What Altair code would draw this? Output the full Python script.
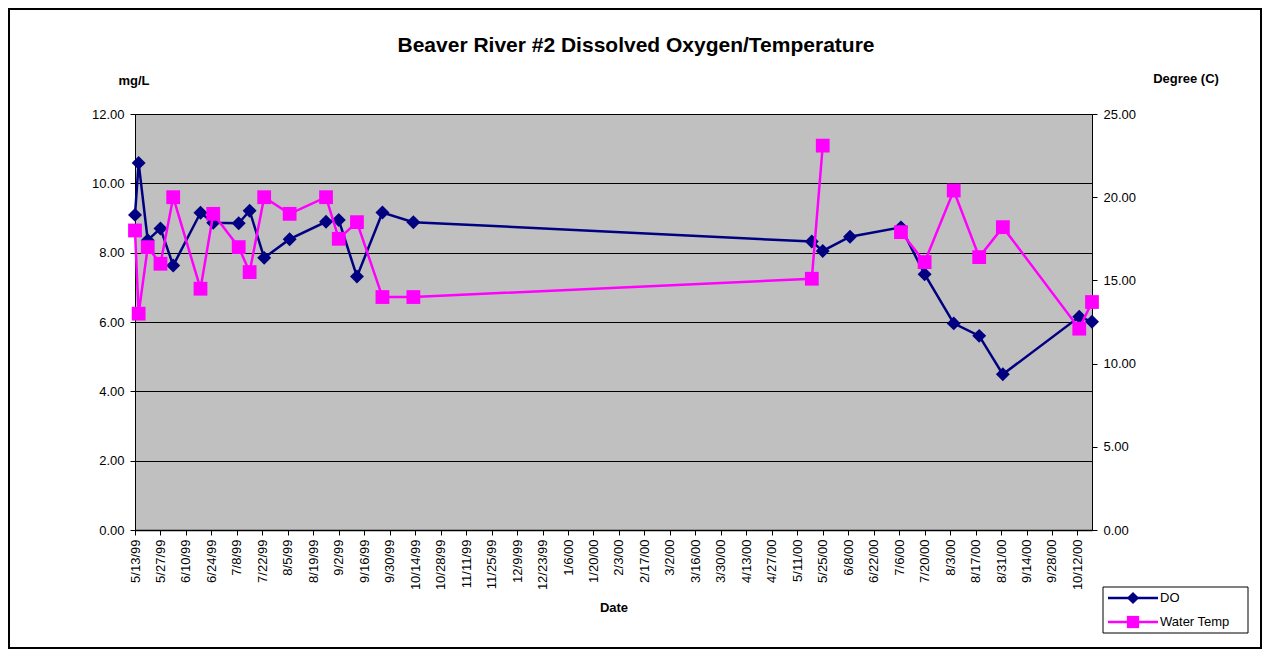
import altair as alt
import pandas as pd

# ---- data ----
dates = ["1999-05-13", "1999-05-15", "1999-05-20", "1999-05-27", "1999-06-03",
         "1999-06-18", "1999-06-25", "1999-07-09", "1999-07-15", "1999-07-23",
         "1999-08-06", "1999-08-26", "1999-09-02", "1999-09-12", "1999-09-26",
         "1999-10-13", "2000-05-19", "2000-05-25", "2000-06-09", "2000-07-07",
         "2000-07-20", "2000-08-05", "2000-08-19", "2000-09-01", "2000-10-13",
         "2000-10-20"]
do_values = [9.09, 10.59, 8.36, 8.70, 7.63, 9.15, 8.86, 8.85, 9.21, 7.85,
             8.39, 8.89, 8.94, 7.31, 9.16, 8.88, 8.32, 8.05, 8.46, 8.73,
             7.38, 5.96, 5.60, 4.49, 6.15, 6.01]
temp_values = [18.0, 13.0, 17.0, 16.0, 20.0, 14.5, 19.0, 17.0, 15.5, 20.0,
               19.0, 20.0, 17.5, 18.5, 14.0, 14.0, 15.1, 23.1, None, 17.9,
               16.1, 20.4, 16.4, 18.2, 12.1, 13.7]

x_tick_labels = ["5/13/99", "5/27/99", "6/10/99", "6/24/99", "7/8/99", "7/22/99",
                 "8/5/99", "8/19/99", "9/2/99", "9/16/99", "9/30/99", "10/14/99",
                 "10/28/99", "11/11/99", "11/25/99", "12/9/99", "12/23/99", "1/6/00",
                 "1/20/00", "2/3/00", "2/17/00", "3/2/00", "3/16/00", "3/30/00",
                 "4/13/00", "4/27/00", "5/11/00", "5/25/00", "6/8/00", "6/22/00",
                 "7/6/00", "7/20/00", "8/3/00", "8/17/00", "8/31/00", "9/14/00",
                 "9/28/00", "10/12/00"]
left_ticks = [0, 2, 4, 6, 8, 10, 12]
right_ticks = [0, 5, 10, 15, 20, 25]

title_text = "Beaver River #2 Dissolved Oxygen/Temperature"
series_names = ["DO", "Water Temp"]
DO_COLOR = "#000080"
TEMP_COLOR = "#FF00FF"
FONT = "Liberation Sans"

# ---- helpers ----
def to_ms(ts):
    return int(pd.Timestamp(ts).value // 10**6)

tick_ms = [to_ms(pd.to_datetime(t, format="%m/%d/%y")) for t in x_tick_labels]
domain = [to_ms(dates[0]), to_ms(dates[-1])]

seg = []
s = 0
for v in temp_values:
    if v is None:
        s += 1
    seg.append(s)

df = pd.DataFrame({"date": dates, "do": do_values, "temp": temp_values, "seg": seg})

x_enc = alt.X(
    "date:T",
    scale=alt.Scale(type="utc", domain=domain),
    axis=alt.Axis(values=tick_ms,
                  labelExpr="utcFormat(datum.value, '%-m/%-d/%y')",
                  labelAngle=270, labelAlign="right", labelBaseline="middle",
                  labelPadding=4, tickSize=5, title=None, grid=False,
                  labelOverlap=False, labelFontSize=13, labelBound=False,
                  labelFlush=False, domainWidth=1.5),
)
y_do = alt.Y("do:Q", scale=alt.Scale(domain=[0, 12]),
             axis=alt.Axis(values=left_ticks, format=".2f", grid=True, orient="left",
                           title=None, tickSize=5, labelPadding=6, labelFontSize=13))
y_temp = alt.Y("temp:Q", scale=alt.Scale(domain=[0, 25]),
               axis=alt.Axis(values=right_ticks, format=".2f", grid=False, orient="right",
                             title=None, tickSize=5, labelPadding=6, labelFontSize=13))

base = alt.Chart(df)
do_layer = alt.layer(
    base.mark_line(color=DO_COLOR, strokeWidth=2.5).encode(x=x_enc, y=y_do),
    base.mark_point(shape="diamond", filled=True, size=195, color=DO_COLOR, opacity=1).encode(x=x_enc, y=y_do),
)
temp_base = base.transform_filter("isValid(datum.temp)")
temp_layer = alt.layer(
    temp_base.mark_line(color=TEMP_COLOR, strokeWidth=2.5).encode(x=x_enc, y=y_temp, detail="seg:N"),
    temp_base.mark_point(shape="square", filled=True, size=190, color=TEMP_COLOR, opacity=1).encode(x=x_enc, y=y_temp),
)

one = pd.DataFrame({"a": [0]})

def label(text, x, y, size=13, weight="bold", align="center"):
    return alt.Chart(pd.DataFrame({"t": [text]})).mark_text(
        font=FONT, fontSize=size, fontWeight=weight, align=align, baseline="middle", color="black"
    ).encode(x=alt.value(x), y=alt.value(y), text="t:N")

title_layer = label(title_text, 501, -68, size=21)
mgl_layer = label("mg/L", -1, -33)
deg_layer = label("Degree (C)", 1051, -35)
date_layer = label("Date", 479, 494)

border = alt.Chart(one).mark_rect(fill="transparent", stroke="black", strokeWidth=2).encode(
    x=alt.value(-126), x2=alt.value(1126), y=alt.value(-105), y2=alt.value(534))

legend_box = alt.Chart(one).mark_rect(fill="white", stroke="black", strokeWidth=1).encode(
    x=alt.value(968), x2=alt.value(1113), y=alt.value(473), y2=alt.value(519))
leg_do_line = alt.Chart(one).mark_rule(color=DO_COLOR, strokeWidth=2.5).encode(
    x=alt.value(973), x2=alt.value(1023), y=alt.value(484))
leg_do_pt = alt.Chart(one).mark_point(shape="diamond", filled=True, size=150, color=DO_COLOR, opacity=1).encode(
    x=alt.value(998), y=alt.value(484))
leg_t_line = alt.Chart(one).mark_rule(color=TEMP_COLOR, strokeWidth=2.5).encode(
    x=alt.value(973), x2=alt.value(1023), y=alt.value(508))
leg_t_pt = alt.Chart(one).mark_point(shape="square", filled=True, size=150, color=TEMP_COLOR, opacity=1).encode(
    x=alt.value(998), y=alt.value(508))
leg_do_txt = label(series_names[0], 1025, 484, weight="normal", align="left")
leg_t_txt = label(series_names[1], 1025, 508, weight="normal", align="left")

chart = alt.layer(
    do_layer, temp_layer,
    border, title_layer, mgl_layer, deg_layer, date_layer,
    legend_box, leg_do_line, leg_t_line, leg_do_pt, leg_t_pt, leg_do_txt, leg_t_txt,
).resolve_scale(y="independent").properties(
    width=957, height=416,
    autosize=alt.AutoSizeParams(type="none"),
    padding={"left": 127, "top": 106, "right": 170, "bottom": 119},
    background="white",
).configure_view(
    fill="#C0C0C0", stroke="#808080", strokeWidth=1
).configure_axis(
    labelFont=FONT, labelColor="black", domainColor="black", tickColor="black",
    gridColor="black", gridOpacity=1, gridWidth=1, domainWidth=1,
)

chart.save("out.html", embed_options={"renderer": "svg", "actions": False})
